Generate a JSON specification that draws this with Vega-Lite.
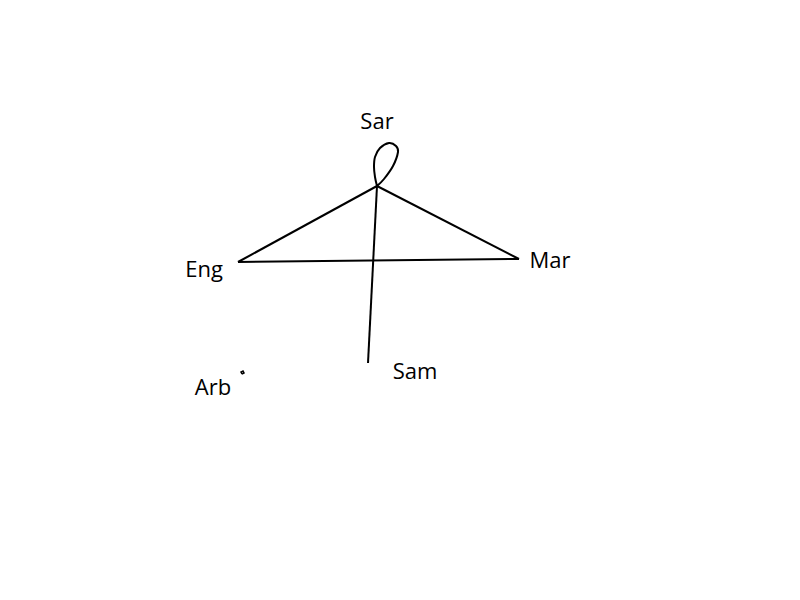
{
  "$schema": "https://vega.github.io/schema/vega-lite/v6.json",
  "width": 800,
  "height": 600,
  "autosize": {"type": "fit", "contains": "padding"},
  "padding": 0,
  "background": "white",
  "config": {"view": {"stroke": null}},
  "datasets": {
    "edges": [
      {"edge": "Sar-Eng", "seq": 0, "x": 377, "y": 186},
      {"edge": "Sar-Eng", "seq": 1, "x": 238, "y": 262},
      {"edge": "Sar-Mar", "seq": 0, "x": 377, "y": 186},
      {"edge": "Sar-Mar", "seq": 1, "x": 519, "y": 259},
      {"edge": "Eng-Mar", "seq": 0, "x": 238, "y": 262},
      {"edge": "Eng-Mar", "seq": 1, "x": 519, "y": 259},
      {"edge": "Sar-Sam", "seq": 0, "x": 377, "y": 186},
      {"edge": "Sar-Sam", "seq": 1, "x": 368, "y": 363},
      {"edge": "Sar-Sar", "seq": 0, "x": 377, "y": 186},
      {"edge": "Sar-Sar", "seq": 1, "x": 375, "y": 177},
      {"edge": "Sar-Sar", "seq": 2, "x": 374, "y": 167},
      {"edge": "Sar-Sar", "seq": 3, "x": 375, "y": 157},
      {"edge": "Sar-Sar", "seq": 4, "x": 380, "y": 148},
      {"edge": "Sar-Sar", "seq": 5, "x": 389, "y": 143},
      {"edge": "Sar-Sar", "seq": 6, "x": 396, "y": 146},
      {"edge": "Sar-Sar", "seq": 7, "x": 398, "y": 152},
      {"edge": "Sar-Sar", "seq": 8, "x": 393, "y": 166},
      {"edge": "Sar-Sar", "seq": 9, "x": 384, "y": 179},
      {"edge": "Sar-Sar", "seq": 10, "x": 377, "y": 186}
    ],
    "arbLoop": [
      {"edge": "Arb-Arb", "seq": 0, "x": 242, "y": 374},
      {"edge": "Arb-Arb", "seq": 1, "x": 241, "y": 372},
      {"edge": "Arb-Arb", "seq": 2, "x": 243, "y": 371},
      {"edge": "Arb-Arb", "seq": 3, "x": 244, "y": 373},
      {"edge": "Arb-Arb", "seq": 4, "x": 242, "y": 374}
    ],
    "nodes": [
      {"name": "Sar", "lx": 377, "ly": 129},
      {"name": "Eng", "lx": 204, "ly": 277},
      {"name": "Mar", "lx": 550, "ly": 268},
      {"name": "Sam", "lx": 415, "ly": 379},
      {"name": "Arb", "lx": 213, "ly": 395}
    ]
  },
  "layer": [
    {
      "data": {"name": "edges"},
      "mark": {"type": "line", "color": "black", "strokeWidth": 2, "interpolate": "cardinal"},
      "encoding": {
        "x": {"field": "x", "type": "quantitative", "scale": {"domain": [0, 800]}, "axis": null},
        "y": {"field": "y", "type": "quantitative", "scale": {"domain": [0, 600], "reverse": true}, "axis": null},
        "detail": {"field": "edge"},
        "order": {"field": "seq"}
      }
    },
    {
      "data": {"name": "arbLoop"},
      "mark": {"type": "line", "color": "black", "strokeWidth": 1.5, "interpolate": "linear"},
      "encoding": {
        "x": {"field": "x", "type": "quantitative", "scale": {"domain": [0, 800]}, "axis": null},
        "y": {"field": "y", "type": "quantitative", "scale": {"domain": [0, 600], "reverse": true}, "axis": null},
        "detail": {"field": "edge"},
        "order": {"field": "seq"}
      }
    },
    {
      "data": {"name": "nodes"},
      "mark": {"type": "text", "font": "Open Sans", "fontSize": 22, "align": "center", "baseline": "alphabetic", "color": "black"},
      "encoding": {
        "x": {"field": "lx", "type": "quantitative", "scale": {"domain": [0, 800]}, "axis": null},
        "y": {"field": "ly", "type": "quantitative", "scale": {"domain": [0, 600], "reverse": true}, "axis": null},
        "text": {"field": "name"}
      }
    }
  ]
}
